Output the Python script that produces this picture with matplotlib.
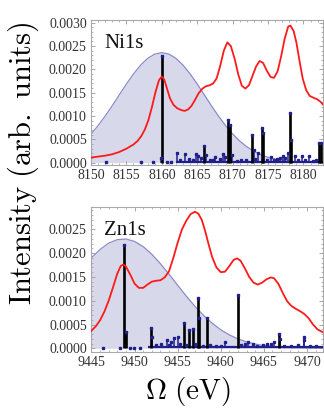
import matplotlib
matplotlib.use("Agg")
import matplotlib.pyplot as plt
from matplotlib.ticker import MultipleLocator, FormatStrFormatter

plt.rcParams['mathtext.fontset'] = 'cm'

# ---------------- Ni 1s panel data ----------------
ni_gauss_x = list(range(8150, 8184))
ni_gauss_y = [0.000616, 0.000795, 0.000999, 0.001222, 0.001455, 0.001687, 0.001903,
              0.002091, 0.002237, 0.002329, 0.002360, 0.002329, 0.002237, 0.002091,
              0.001903, 0.001687, 0.001455, 0.001222, 0.000999, 0.000795, 0.000616,
              0.000464, 0.000341, 0.000244, 0.000169, 0.000115, 0.0000757, 0.0000486,
              0.0000304, 0.0000185, 0.0000109, 0.0000063, 0.0000035, 0.0000019]

ni_red_x = [8150.0, 8151.0, 8152.0, 8153.0, 8154.0, 8155.0, 8156.0, 8156.6, 8157.1, 8157.6,
            8158.1, 8158.6, 8159.1, 8159.6, 8160.0, 8160.35, 8160.75, 8161.15, 8161.65, 8162.15,
            8162.7, 8163.2, 8163.7, 8164.2, 8164.7, 8165.2, 8165.75, 8166.25, 8166.75, 8167.25,
            8167.75, 8168.25, 8168.75, 8169.25, 8169.75, 8170.3, 8170.8, 8171.3, 8171.8, 8172.3,
            8172.8, 8173.3, 8173.8, 8174.3, 8174.8, 8175.35, 8175.85, 8176.35, 8176.85, 8177.35,
            8177.85, 8178.15, 8178.6, 8179.0, 8179.4, 8179.9, 8180.4, 8180.9, 8181.45, 8181.95,
            8182.45, 8182.75]
ni_red_y = [0.00011, 0.00013, 0.00015, 0.00018, 0.00023, 0.00030, 0.00039, 0.00047, 0.00057, 0.00071,
            0.00091, 0.00119, 0.00151, 0.00177, 0.00185, 0.00178, 0.00158, 0.00138, 0.00124, 0.00117,
            0.00113, 0.00111, 0.00114, 0.00122, 0.00135, 0.00149, 0.00159, 0.00164, 0.00166, 0.00170,
            0.00181, 0.00208, 0.00240, 0.00258, 0.00250, 0.00222, 0.00189, 0.00165, 0.00159, 0.00166,
            0.00186, 0.00206, 0.00218, 0.00214, 0.00198, 0.00184, 0.00182, 0.00196, 0.00228, 0.00266,
            0.00292, 0.00294, 0.00283, 0.00258, 0.00222, 0.00180, 0.00155, 0.00143, 0.00139, 0.00136,
            0.00130, 0.00125]

ni_stick_x = [8159.85, 8159.98, 8162.15, 8163.28, 8164.83, 8165.07, 8165.92, 8166.25, 8167.57,
              8168.61, 8168.94, 8169.32, 8169.69, 8169.93, 8172.76, 8172.95, 8173.56, 8174.13,
              8174.32, 8175.35, 8176.63, 8177.10, 8177.81, 8178.05, 8178.19, 8178.84, 8179.79,
              8180.73, 8182.15, 8182.43,
              8162.6, 8163.9, 8164.4, 8165.5, 8166.8, 8167.2, 8168.2, 8170.6, 8171.2, 8171.9,
              8173.2, 8174.8, 8175.8, 8176.2, 8177.4, 8179.2, 8180.2, 8181.3, 8181.8]
ni_stick_h = [0.00010, 0.00228, 0.00021, 0.00019, 0.00019, 0.00014, 0.00035, 0.00017, 0.00012,
              0.00018, 0.00012, 0.00092, 0.00080, 0.00017, 0.00059, 0.00027, 0.00021, 0.00074,
              0.00064, 0.00012, 0.00010, 0.00014, 0.00021, 0.00106, 0.00048, 0.00014, 0.00014,
              0.00014, 0.00042, 0.00042,
              0.00006, 0.00008, 0.00005, 0.00009, 0.00006, 0.00005, 0.00007, 0.00004, 0.00005, 0.00006,
              0.00008, 0.00006, 0.00005, 0.00007, 0.00009, 0.00005, 0.00006, 0.00004, 0.00005]
ni_dots_x = [8152.1, 8157.0, 8158.8, 8160.8, 8161.3]
ni_band = [8162.0, 8182.76]

# ---------------- Zn 1s panel data ----------------
zn_gauss_x = list(range(9445, 9473))
zn_gauss_y = [0.001902, 0.002078, 0.002210, 0.002284, 0.002297, 0.002247, 0.002137, 0.001977,
              0.001779, 0.001557, 0.001325, 0.001097, 0.000883, 0.000692, 0.000527, 0.000390,
              0.000281, 0.000197, 0.000134, 0.000089, 0.0000575, 0.0000360, 0.0000220,
              0.0000130, 0.0000074, 0.0000040, 0.0000020, 0.0000010]

zn_red_x = [9445.0, 9445.5, 9446.0, 9446.5, 9447.0, 9447.5, 9448.0, 9448.4, 9448.7, 9449.0,
            9449.5, 9450.0, 9450.5, 9451.0, 9451.5, 9452.0, 9452.5, 9453.0, 9453.5, 9454.0,
            9454.5, 9455.0, 9455.5, 9456.0, 9456.5, 9457.0, 9457.4, 9457.8, 9458.2, 9458.6,
            9459.0, 9459.5, 9460.0, 9460.5, 9461.0, 9461.5, 9461.9, 9462.3, 9462.8, 9463.3,
            9463.8, 9464.3, 9464.8, 9465.3, 9465.8, 9466.2, 9466.7, 9467.2, 9467.7, 9468.2,
            9468.7, 9469.2, 9469.7, 9470.2, 9470.7, 9471.2, 9471.8]
zn_red_y = [0.00037, 0.00046, 0.00059, 0.00077, 0.00100, 0.00128, 0.00157, 0.00173, 0.00176, 0.00172,
            0.00155, 0.00136, 0.00127, 0.00127, 0.00134, 0.00140, 0.00142, 0.00143, 0.00149, 0.00162,
            0.00190, 0.00222, 0.00250, 0.00268, 0.00282, 0.00287, 0.00283, 0.00270, 0.00246, 0.00218,
            0.00192, 0.00170, 0.00160, 0.00161, 0.00173, 0.00186, 0.00189, 0.00184, 0.00168, 0.00150,
            0.00138, 0.00134, 0.00138, 0.00145, 0.00149, 0.00147, 0.00135, 0.00116, 0.00099, 0.00089,
            0.00083, 0.00078, 0.00072, 0.00063, 0.00050, 0.00040, 0.00034]

zn_stick_x = [9448.75, 9449.0, 9451.95, 9452.05, 9453.8, 9454.2, 9454.6, 9455.0, 9455.7, 9456.3,
              9456.8, 9457.35, 9457.45, 9458.35, 9460.5, 9461.95, 9463.2, 9463.7, 9465.4, 9466.2,
              9466.7, 9466.85, 9469.6, 9469.7,
              9452.5, 9453.1, 9454.0, 9455.3, 9456.0, 9457.0, 9457.9, 9458.8, 9459.4, 9460.0,
              9462.4, 9462.8, 9464.2, 9464.9, 9465.8, 9467.3, 9468.2, 9469.0, 9470.4, 9471.1]
zn_stick_h = [0.00218, 0.00035, 0.00043, 0.00024, 0.00018, 0.00013, 0.00022, 0.00023, 0.00053, 0.00038,
              0.00041, 0.00105, 0.00063, 0.00063, 0.00014, 0.00113, 0.00014, 0.00010, 0.00010, 0.00014,
              0.00031, 0.00020, 0.00024, 0.00017,
              0.00006, 0.00008, 0.00007, 0.00009, 0.00006, 0.00008, 0.00005, 0.00006, 0.00004, 0.00005,
              0.00006, 0.00008, 0.00005, 0.00006, 0.00009, 0.00005, 0.00004, 0.00006, 0.00004, 0.00005]
zn_dots_x = [9446.3, 9448.3, 9449.5, 9449.9, 9450.6]
zn_band = [9451.6, 9471.86]

# ---------------- drawing ----------------
fig = plt.figure(figsize=(3.24, 4.09), dpi=100)

W, H = 324.0, 409.0
def axes_box(left, right, top, bottom):
    return [left / W, 1 - bottom / H, (right - left) / W, (bottom - top) / H]

ax1 = fig.add_axes(axes_box(91, 323, 20, 165))
ax2 = fig.add_axes(axes_box(91, 323, 207, 352))

GAUSS_LINE = '#8c8cc8'
GAUSS_FILL = '#d8d8eb'
NAVY = '#20208c'
RED = '#ff1a1a'

def draw_panel(ax, gx, gy, rx, ry, sx, sh, dots, band, xlim, ylim, label, yticks):
    ax.fill_between(gx, 0, gy, color=GAUSS_FILL, lw=0, zorder=1)
    ax.plot(gx, gy, color=GAUSS_LINE, lw=0.9, zorder=2)
    ax.plot(band, [0.00002, 0.00002], color=NAVY, lw=1.6, zorder=3, solid_capstyle='butt')
    ax.plot(dots, [0.00001] * len(dots), ls='none', marker='s', ms=1.5, color=NAVY, zorder=3)
    big_x = [x for x, h in zip(sx, sh) if h >= 0.0003]
    big_h = [h for h in sh if h >= 0.0003]
    small_x = [x for x, h in zip(sx, sh) if h < 0.0003]
    small_h = [h for h in sh if h < 0.0003]
    ax.vlines(small_x, 0, small_h, color=NAVY, lw=1.1, zorder=4)
    ax.vlines(big_x, 0, big_h, color='black', lw=1.9, zorder=4)
    ax.plot(small_x, small_h, ls='none', marker='s', ms=1.4, color=NAVY, zorder=5)
    ax.plot(big_x, big_h, ls='none', marker='s', ms=1.9, color=NAVY, zorder=5)
    ax.plot(rx, ry, color=RED, lw=1.3, zorder=6)
    ax.set_xlim(*xlim)
    ax.set_ylim(*ylim)
    ax.xaxis.set_major_locator(MultipleLocator(5))
    ax.xaxis.set_minor_locator(MultipleLocator(1))
    ax.yaxis.set_minor_locator(MultipleLocator(0.0001))
    ax.set_yticks(yticks)
    ax.yaxis.set_major_formatter(FormatStrFormatter('%.4f'))
    ax.tick_params(which='both', direction='in', top=True, right=True, color='#999999')
    ax.tick_params(which='major', length=3, width=0.6, labelsize=10, labelcolor='#333333', pad=3)
    ax.tick_params(which='minor', length=1.5, width=0.5)
    for lab in ax.get_xticklabels() + ax.get_yticklabels():
        lab.set_fontfamily('Liberation Serif')
    for sp in ax.spines.values():
        sp.set_color('#a8a8a8')
        sp.set_linewidth(0.8)
    ax.text(0.056, 0.807, label, transform=ax.transAxes, fontsize=15,
            family='Liberation Serif', va='baseline', ha='left', color='#111111', zorder=7)

draw_panel(ax1, ni_gauss_x, ni_gauss_y, ni_red_x, ni_red_y, ni_stick_x, ni_stick_h,
           ni_dots_x, ni_band, (8150, 8182.76), (-0.00005, 0.00306), 'Ni1s',
           [0, 0.0005, 0.0010, 0.0015, 0.0020, 0.0025, 0.0030])
draw_panel(ax2, zn_gauss_x, zn_gauss_y, zn_red_x, zn_red_y, zn_stick_x, zn_stick_h,
           zn_dots_x, zn_band, (9444.95, 9471.86), (-0.000078, 0.00297), 'Zn1s',
           [0, 0.0005, 0.0010, 0.0015, 0.0020, 0.0025])

fig.text(23 / W, 1 - 163 / H, r'$\mathrm{Intensity\ (arb.\ units)}$', rotation=90,
         fontsize=22, ha='center', va='center')
fig.text(188 / W, 1 - 392 / H, r'$\Omega\ \mathrm{(eV)}$', fontsize=21, ha='center', va='center')

fig.savefig('out.png', dpi=100)
